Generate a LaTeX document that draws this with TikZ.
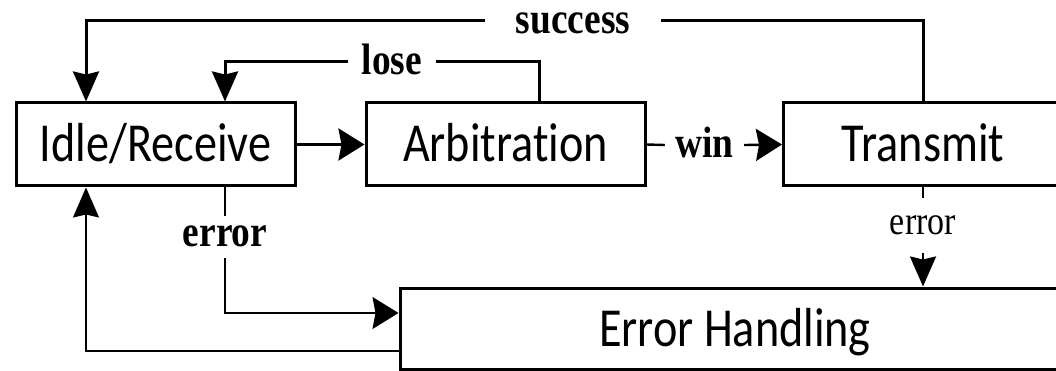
\documentclass[tikz,border=0pt]{standalone}
\usepackage{fontspec}
\newfontfamily\boxfont[FakeStretch=0.84,RawFeature={-liga}]{Carlito}
\newfontfamily\tagfont[FakeStretch=0.85]{Liberation Serif}
\usetikzlibrary{arrows.meta,calc}
\begin{document}
\begin{tikzpicture}[x=1pt,y=-1pt,
  state/.style={draw, line width=3pt, minimum width=279pt, minimum height=83pt,
    inner sep=0pt, text height=35pt, text depth=0pt,
    font=\boxfont\fontsize{55}{60}\selectfont},
  tag/.style={inner sep=0pt, text height=26pt, text depth=0pt,
    font=\tagfont\bfseries\fontsize{44}{48}\selectfont},
  link/.style={line width=3pt},
  midlink/.style={line width=2.4pt},
  thin link/.style={line width=1.1pt},
  vhead/.style={-{Stealth[length=30pt 0 0,width=26pt 0 0,inset=3pt 0 0]}},
  hhead/.style={-{Stealth[length=26pt 0 0,width=32pt 0 0,inset=3pt 0 0]}}]
\clip (0,0) rectangle (1056,371);

% states
\node[state] (idle) at (155.5,144.5) {Idle/Receive};
\node[state] (arb)  at (505.5,144.5) {Arbitration};
\node[state] (tx)   at (923,144.5)   {Transmit};
\node[state, minimum width=670pt, minimum height=81pt] (err) at (735,328.5) {Error Handling};

% transition labels (their widths leave the gaps in the lines)
\node[tag, minimum width=176pt] (succ) at (573,21)  {success};
\node[tag, minimum width=88pt]  (lose) at (392,62)  {lose};
\node[tag, minimum width=79pt]  (win)  at (704.5,145) {win};
\node[tag, text height=20pt, minimum height=42pt] (ierr) at (225,237) {error};
\node[tag, font=\tagfont\fontsize{40}{44}\selectfont, text height=18pt,
      minimum height=55pt] (terr) at (923,225.5) {error};

% routing columns and rows
\coordinate (colA) at (86,0);
\coordinate (colB) at (225,0);
\coordinate (colC) at (539,0);
\coordinate (rowA) at (0,313);
\coordinate (rowB) at (0,351);

% transitions
\draw[link] (tx.north) |- (succ.east);
\draw[link,vhead] (succ.west) -| (colA |- idle.north);
\draw[link] (colC |- arb.north) |- (lose.east);
\draw[link,vhead] (lose.west) -| (colB |- idle.north);
\draw[link,hhead] (idle.east) -- (arb.west);
\draw[midlink] (arb.east) -- (win.west);
\draw[midlink,hhead] (win.east) -- (tx.west);
\draw[thin link] (colB |- idle.south) -- (ierr.north);
\draw[thin link,hhead] (ierr.south) |- (rowA -| err.west);
\draw[thin link,vhead] (rowB -| err.west) -| (colA |- idle.south);
\draw[midlink] (tx.south) -- (terr.north);
\draw[midlink,vhead] (terr.south) -- (terr.south |- err.north);
\end{tikzpicture}
\end{document}
